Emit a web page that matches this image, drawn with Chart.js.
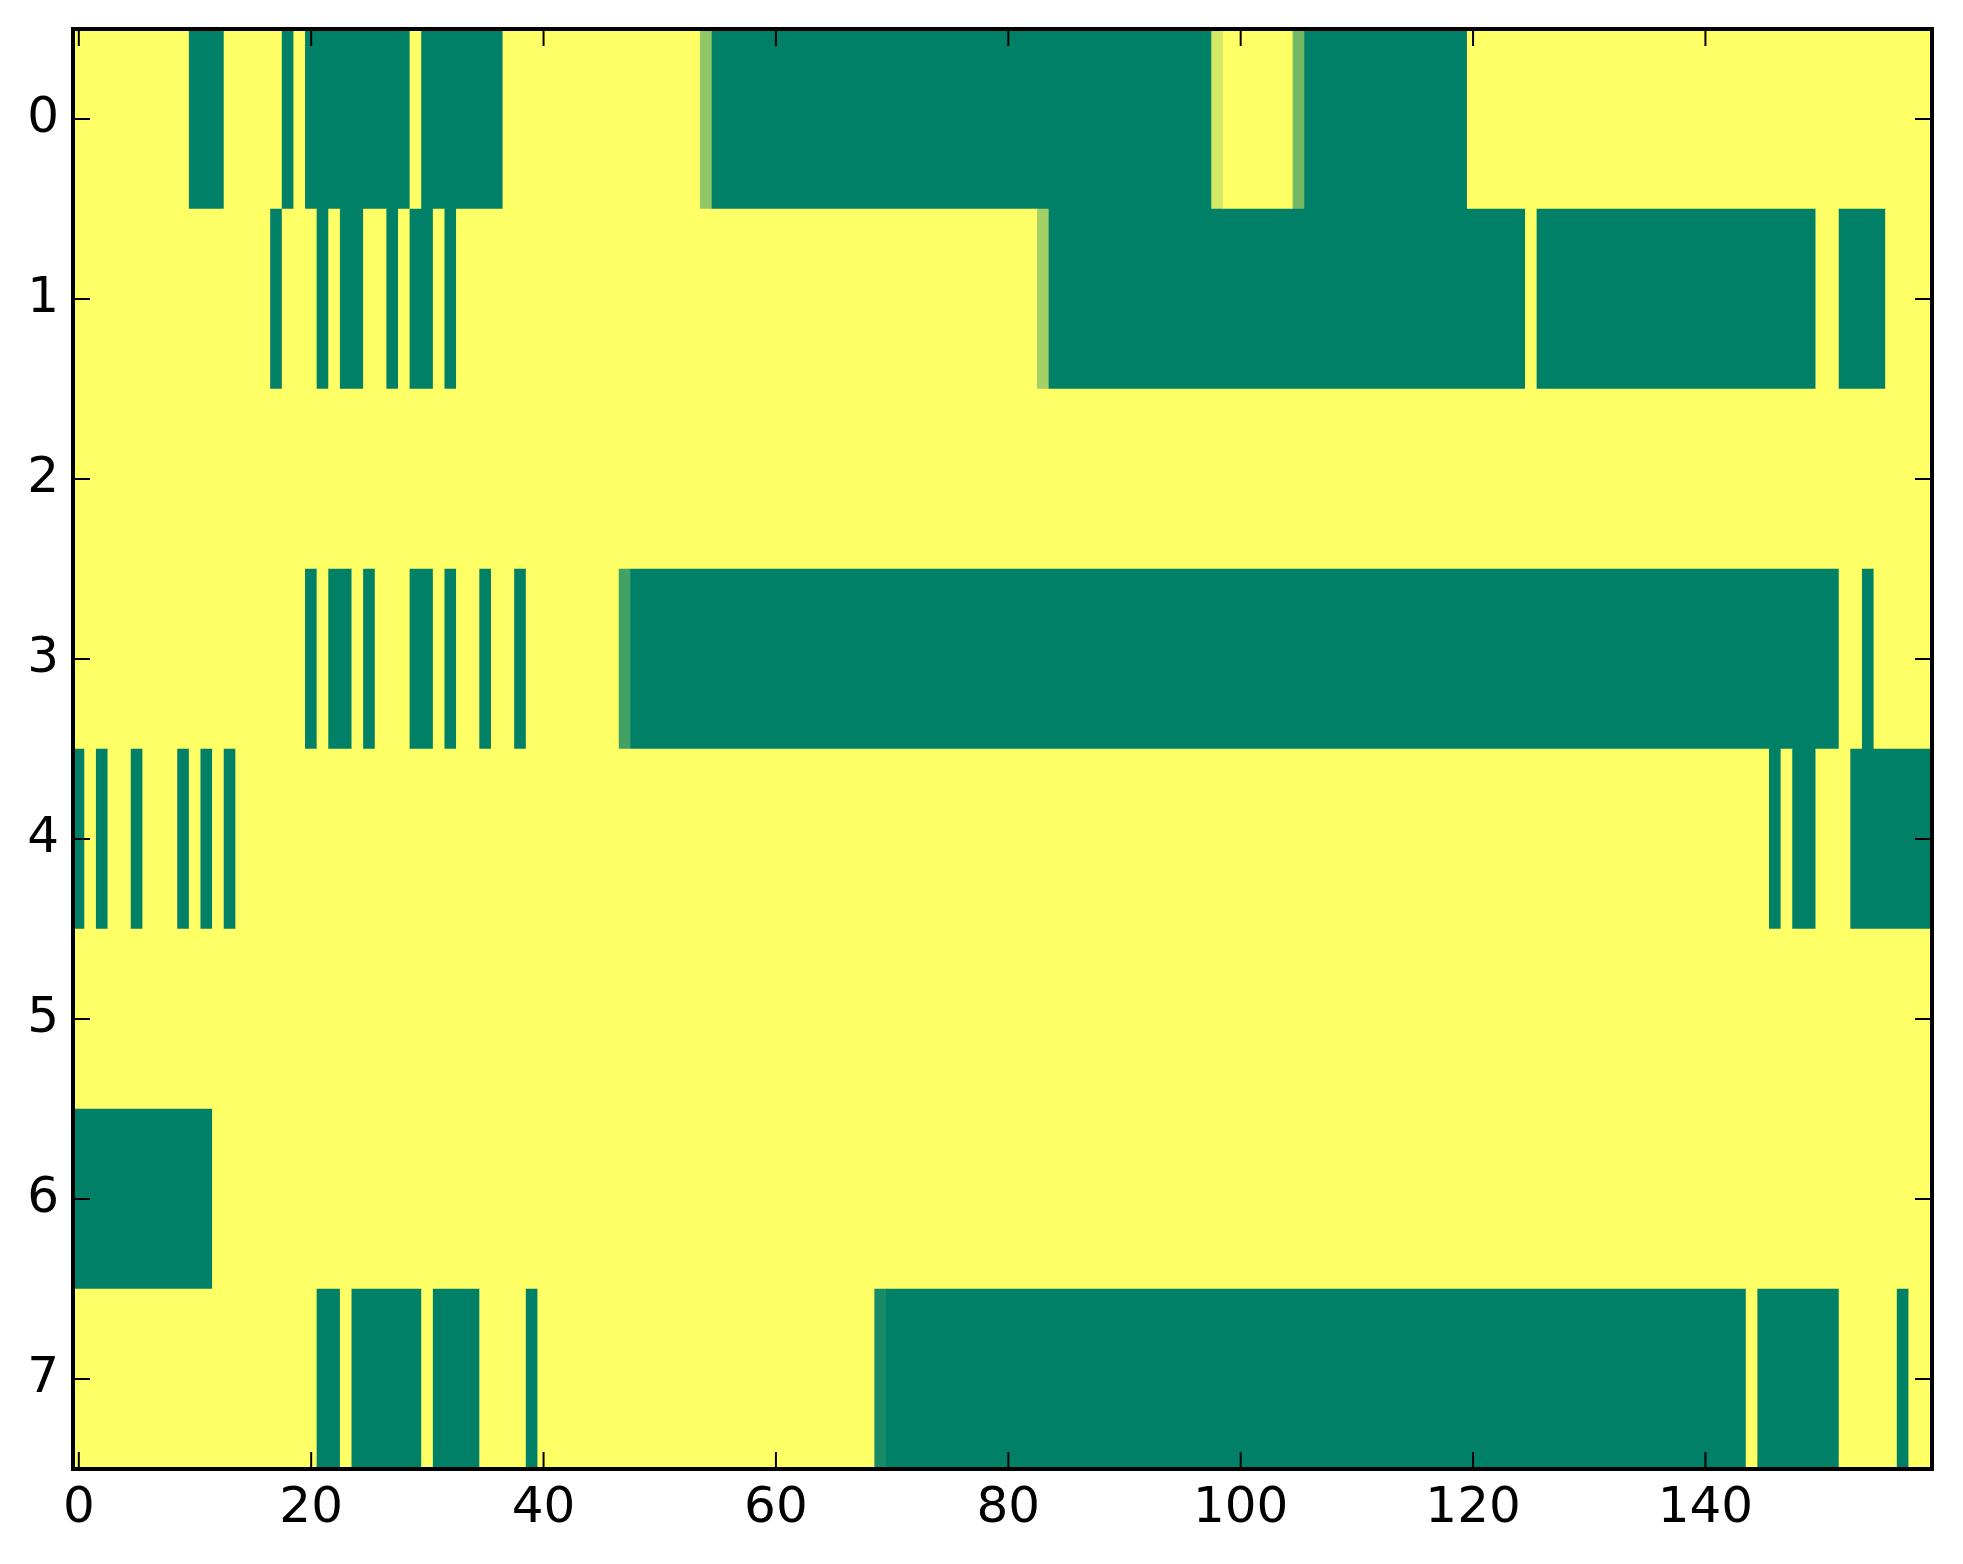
<!DOCTYPE html>
<html>
<head>
<meta charset="utf-8">
<script src="https://cdn.jsdelivr.net/npm/chart.js@4.4.1/dist/chart.umd.min.js"></script>
<style>
html,body{margin:0;padding:0;background:#fff;}
canvas{display:block;}
</style>
</head>
<body>
<canvas id="c" width="1963" height="1564" style="width:1963px;height:1564px"></canvas>
<script>
// Row labels (y axis categories) and x tick labels
const rowLabels = ['0','1','2','3','4','5','6','7'];
const xTicks = [0,20,40,60,80,100,120,140];

// Cell values per row, columns 0..159 (0 = green end, 1 = yellow end of "summer")
const row0 = [
1,1,1,1,1,1,1,1,1,1,0,0,0,1,1,1,1,1,0,1,
0,0,0,0,0,0,0,0,0,1,0,0,0,0,0,0,0,1,1,1,
1,1,1,1,1,1,1,1,1,1,1,1,1,1,0.56,0,0,0,0,0,
0,0,0,0,0,0,0,0,0,0,0,0,0,0,0,0,0,0,0,0,
0,0,0,0,0,0,0,0,0,0,0,0,0,0,0,0,0,0,0.83,1,
1,1,1,1,1,0.45,0,0,0,0,0,0,0,0,0,0,0,0,0,0,
1,1,1,1,1,1,1,1,1,1,1,1,1,1,1,1,1,1,1,1,
1,1,1,1,1,1,1,1,1,1,1,1,1,1,1,1,1,1,1,1];
const row1 = [
1,1,1,1,1,1,1,1,1,1,1,1,1,1,1,1,1,0,1,1,
1,0,1,0,0,1,1,0,1,0,0,1,0,1,1,1,1,1,1,1,
1,1,1,1,1,1,1,1,1,1,1,1,1,1,1,1,1,1,1,1,
1,1,1,1,1,1,1,1,1,1,1,1,1,1,1,1,1,1,1,1,
1,1,1,0.64,0,0,0,0,0,0,0,0,0,0,0,0,0,0,0,0,
0,0,0,0,0,0,0,0,0,0,0,0,0,0,0,0,0,0,0,0,
0,0,0,0,0,1,0,0,0,0,0,0,0,0,0,0,0,0,0,0,
0,0,0,0,0,0,0,0,0,0,1,1,0,0,0,0,1,1,1,1];
const row2 = [
1,1,1,1,1,1,1,1,1,1,1,1,1,1,1,1,1,1,1,1,
1,1,1,1,1,1,1,1,1,1,1,1,1,1,1,1,1,1,1,1,
1,1,1,1,1,1,1,1,1,1,1,1,1,1,1,1,1,1,1,1,
1,1,1,1,1,1,1,1,1,1,1,1,1,1,1,1,1,1,1,1,
1,1,1,1,1,1,1,1,1,1,1,1,1,1,1,1,1,1,1,1,
1,1,1,1,1,1,1,1,1,1,1,1,1,1,1,1,1,1,1,1,
1,1,1,1,1,1,1,1,1,1,1,1,1,1,1,1,1,1,1,1,
1,1,1,1,1,1,1,1,1,1,1,1,1,1,1,1,1,1,1,1];
const row3 = [
1,1,1,1,1,1,1,1,1,1,1,1,1,1,1,1,1,1,1,1,
0,1,0,0,1,0,1,1,1,0,0,1,0,1,1,0,1,1,0,1,
1,1,1,1,1,1,1,0.26,0,0,0,0,0,0,0,0,0,0,0,0,
0,0,0,0,0,0,0,0,0,0,0,0,0,0,0,0,0,0,0,0,
0,0,0,0,0,0,0,0,0,0,0,0,0,0,0,0,0,0,0,0,
0,0,0,0,0,0,0,0,0,0,0,0,0,0,0,0,0,0,0,0,
0,0,0,0,0,0,0,0,0,0,0,0,0,0,0,0,0,0,0,0,
0,0,0,0,0,0,0,0,0,0,0,0,1,1,0,1,1,1,1,1];
const row4 = [
0,1,0,1,1,0,1,1,1,0,1,0,1,0,1,1,1,1,1,1,
1,1,1,1,1,1,1,1,1,1,1,1,1,1,1,1,1,1,1,1,
1,1,1,1,1,1,1,1,1,1,1,1,1,1,1,1,1,1,1,1,
1,1,1,1,1,1,1,1,1,1,1,1,1,1,1,1,1,1,1,1,
1,1,1,1,1,1,1,1,1,1,1,1,1,1,1,1,1,1,1,1,
1,1,1,1,1,1,1,1,1,1,1,1,1,1,1,1,1,1,1,1,
1,1,1,1,1,1,1,1,1,1,1,1,1,1,1,1,1,1,1,1,
1,1,1,1,1,1,0,1,0,0,1,1,1,0,0,0,0,0,0,0];
const row5 = [
1,1,1,1,1,1,1,1,1,1,1,1,1,1,1,1,1,1,1,1,
1,1,1,1,1,1,1,1,1,1,1,1,1,1,1,1,1,1,1,1,
1,1,1,1,1,1,1,1,1,1,1,1,1,1,1,1,1,1,1,1,
1,1,1,1,1,1,1,1,1,1,1,1,1,1,1,1,1,1,1,1,
1,1,1,1,1,1,1,1,1,1,1,1,1,1,1,1,1,1,1,1,
1,1,1,1,1,1,1,1,1,1,1,1,1,1,1,1,1,1,1,1,
1,1,1,1,1,1,1,1,1,1,1,1,1,1,1,1,1,1,1,1,
1,1,1,1,1,1,1,1,1,1,1,1,1,1,1,1,1,1,1,1];
const row6 = [
0,0,0,0,0,0,0,0,0,0,0,0,1,1,1,1,1,1,1,1,
1,1,1,1,1,1,1,1,1,1,1,1,1,1,1,1,1,1,1,1,
1,1,1,1,1,1,1,1,1,1,1,1,1,1,1,1,1,1,1,1,
1,1,1,1,1,1,1,1,1,1,1,1,1,1,1,1,1,1,1,1,
1,1,1,1,1,1,1,1,1,1,1,1,1,1,1,1,1,1,1,1,
1,1,1,1,1,1,1,1,1,1,1,1,1,1,1,1,1,1,1,1,
1,1,1,1,1,1,1,1,1,1,1,1,1,1,1,1,1,1,1,1,
1,1,1,1,1,1,1,1,1,1,1,1,1,1,1,1,1,1,1,1];
const row7 = [
1,1,1,1,1,1,1,1,1,1,1,1,1,1,1,1,1,1,1,1,
1,0,0,1,0,0,0,0,0,0,1,0,0,0,0,1,1,1,1,0,
1,1,1,1,1,1,1,1,1,1,1,1,1,1,1,1,1,1,1,1,
1,1,1,1,1,1,1,1,1,0.09,0,0,0,0,0,0,0,0,0,0,
0,0,0,0,0,0,0,0,0,0,0,0,0,0,0,0,0,0,0,0,
0,0,0,0,0,0,0,0,0,0,0,0,0,0,0,0,0,0,0,0,
0,0,0,0,0,0,0,0,0,0,0,0,0,0,0,0,0,0,0,0,
0,0,0,0,1,0,0,0,0,0,0,0,1,1,1,1,1,0,1,1];

const rows = [row0,row1,row2,row3,row4,row5,row6,row7];

// matplotlib "summer" colormap
function summer(v){
  return 'rgb(' + Math.round(255*v) + ',' + Math.round(255*(0.5+0.5*v)) + ',102)';
}

// Build floating bars: consecutive equal cells in a row merged into one bar
const segs = [];
const segColors = [];
rows.forEach(function(row, r){
  let s = 0;
  for (let c = 1; c <= row.length; c++) {
    if (c === row.length || row[c] !== row[s]) {
      segs.push({x: [s - 0.5, c - 0.5], y: rowLabels[r]});
      segColors.push(summer(row[s]));
      s = c;
    }
  }
});

const TICK_LEN = 17;
const framePlugin = {
  id: 'frame',
  afterDraw(chart){
    const ctx = chart.ctx, a = chart.chartArea;
    const xs = chart.scales.x, ys = chart.scales.y;
    ctx.save();
    ctx.strokeStyle = '#000';
    ctx.lineWidth = 2;
    ctx.beginPath();
    xTicks.forEach(function(v){
      const px = xs.getPixelForValue(v);
      ctx.moveTo(px, a.bottom); ctx.lineTo(px, a.bottom - TICK_LEN);
      ctx.moveTo(px, a.top); ctx.lineTo(px, a.top + TICK_LEN);
    });
    rowLabels.forEach(function(l, i){
      const py = ys.getPixelForValue(i);
      ctx.moveTo(a.left, py); ctx.lineTo(a.left + TICK_LEN, py);
      ctx.moveTo(a.right, py); ctx.lineTo(a.right - TICK_LEN, py);
    });
    ctx.stroke();
    ctx.lineWidth = 4;
    ctx.strokeRect(a.left, a.top, a.right - a.left, a.bottom - a.top);
    ctx.restore();
  }
};

const font = {family: "'DejaVu Sans', sans-serif", size: 50};

new Chart(document.getElementById('c'), {
  type: 'bar',
  data: {
    labels: rowLabels,
    datasets: [{
      data: segs,
      backgroundColor: segColors,
      borderWidth: 0,
      barPercentage: 1,
      categoryPercentage: 1,
      grouped: false
    }]
  },
  options: {
    indexAxis: 'y',
    responsive: false,
    animation: false,
    devicePixelRatio: 1,
    events: [],
    layout: {padding: {top: 29, right: 31, left: 0, bottom: 0}},
    plugins: {legend: {display: false}, tooltip: {enabled: false}},
    scales: {
      x: {
        type: 'linear',
        min: -0.5,
        max: 159.5,
        afterBuildTicks: function(s){ s.ticks = xTicks.map(function(v){ return {value: v}; }); },
        afterFit: function(s){ s.height = 95; s.paddingLeft = 0; s.paddingRight = 0; },
        grid: {display: false, drawTicks: false},
        border: {display: false},
        ticks: {font: font, color: '#000', padding: 10, maxRotation: 0, autoSkip: false}
      },
      y: {
        type: 'category',
        offset: true,
        afterFit: function(s){ s.width = 73; s.paddingTop = 0; s.paddingBottom = 0; },
        grid: {display: false, drawTicks: false},
        border: {display: false},
        ticks: {font: font, color: '#000', padding: 14, autoSkip: false}
      }
    }
  },
  plugins: [framePlugin]
});
</script>
</body>
</html>
